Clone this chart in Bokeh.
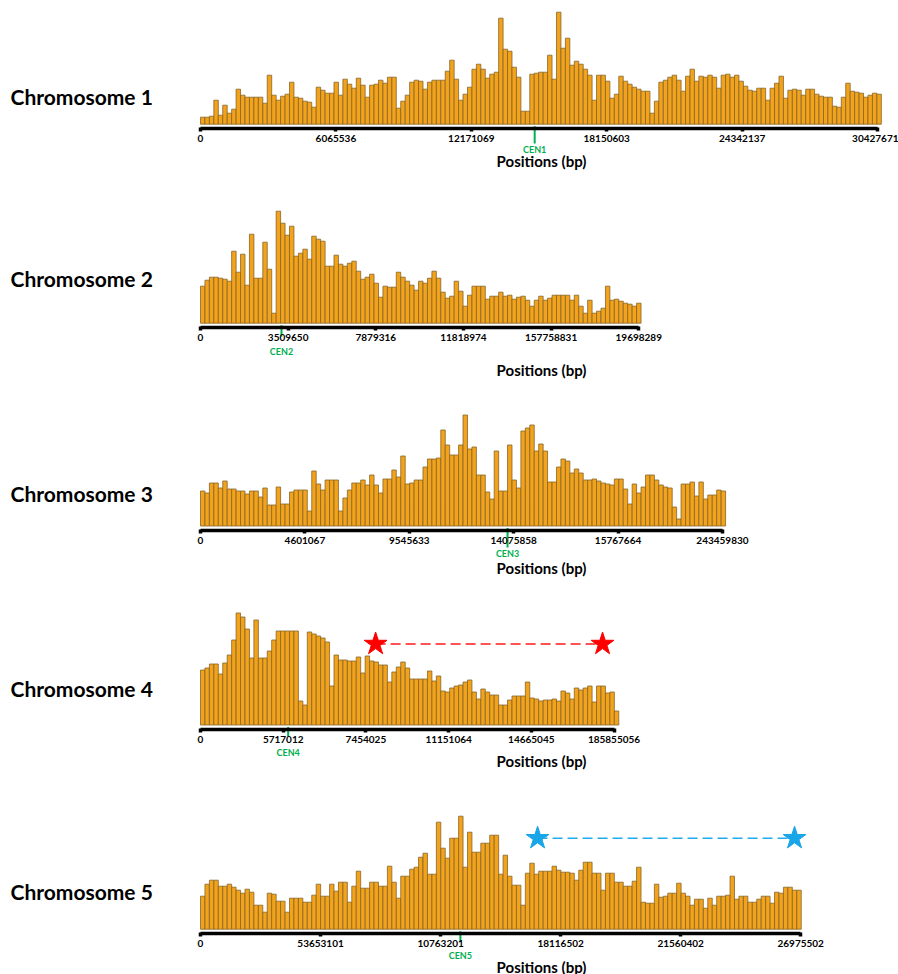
from bokeh.plotting import figure
from bokeh.models import Range1d, LinearAxis, FixedTicker, Label
from bokeh.layouts import column
from bokeh.embed import file_html
from bokeh.resources import INLINE
from bokeh.core.properties import value

# ---------------- data ----------------
BIN_SIZE = 200000
chrom_names = ["Chromosome 1", "Chromosome 2", "Chromosome 3", "Chromosome 4", "Chromosome 5"]
chrom_lengths = [30427671, 19698289, 23459830, 18585056, 26975502]
tick_labels = [
    ["0", "6065536", "12171069", "18150603", "24342137", "30427671"],
    ["0", "3509650", "7879316", "11818974", "157758831", "19698289"],
    ["0", "4601067", "9545633", "14075858", "15767664", "243459830"],
    ["0", "5717012", "7454025", "11151064", "14665045", "185855056"],
    ["0", "53653101", "10763201", "18116502", "21560402", "26975502"],
]
cen_names = ["CEN1", "CEN2", "CEN3", "CEN4", "CEN5"]
cen_positions = [15020000, 3640000, 13800000, 3940000, 11680000]

chr1_counts = [7, 7, 8, 24, 9, 19, 11, 15, 35, 29, 27, 27, 27, 27, 21, 49, 29, 24, 28, 30, 42, 27, 26, 23, 22, 17,
               37, 34, 31, 31, 42, 29, 45, 40, 36, 46, 39, 27, 39, 40, 44, 41, 47, 47, 16, 23, 29, 42, 44, 43, 35, 42,
               44, 44, 44, 53, 64, 45, 24, 30, 37, 55, 60, 55, 46, 50, 52, 106, 75, 73, 57, 47, 13, 13, 50, 51, 52, 52,
               69, 45, 112, 76, 86, 59, 63, 60, 55, 49, 24, 49, 49, 43, 26, 30, 48, 43, 40, 37, 35, 33, 33, 11, 23, 42,
               44, 47, 49, 44, 33, 48, 55, 43, 48, 47, 49, 47, 36, 49, 50, 47, 49, 43, 38, 34, 33, 36, 36, 24, 36, 41,
               48, 26, 34, 35, 34, 29, 35, 35, 30, 28, 27, 27, 18, 17, 27, 41, 33, 32, 31, 27, 29, 31, 30]
chr2_counts = [37, 43, 46, 46, 45, 44, 42, 72, 51, 69,
               38, 89, 45, 45, 81, 54, 10, 112, 100, 88,
               97, 67, 70, 74, 64, 87, 84, 82, 57, 57,
               68, 59, 57, 60, 62, 52, 44, 46, 49, 40,
               26, 37, 36, 36, 51, 46, 42, 38, 33, 42,
               40, 45, 52, 45, 31, 25, 27, 42, 32, 17,
               28, 37, 37, 37, 24, 27, 27, 31, 27, 28,
               24, 26, 27, 23, 17, 23, 27, 23, 25, 28,
               28, 28, 28, 23, 28, 17, 10, 23, 10, 12,
               15, 37, 23, 24, 22, 20, 19, 17, 20]
chr3_counts = [35, 33, 43, 43, 38, 45, 37, 37, 35, 35,
               32, 35, 35, 29, 38, 21, 21, 39, 22, 22,
               34, 36, 36, 36, 15, 55, 42, 36, 46, 46,
               46, 15, 28, 36, 43, 43, 46, 41, 51, 41,
               33, 47, 47, 56, 49, 70, 42, 43, 46, 46,
               59, 67, 67, 68, 96, 81, 71, 71, 81, 111,
               77, 79, 51, 51, 34, 27, 75, 35, 35, 81,
               46, 38, 95, 98, 101, 75, 82, 75, 44, 44,
               59, 67, 65, 53, 57, 53, 46, 46, 47, 45,
               43, 42, 41, 47, 47, 37, 22, 42, 33, 39,
               51, 51, 46, 41, 39, 38, 19, 7, 42, 42,
               44, 30, 44, 27, 31, 31, 36, 35]
chr4_counts = [55, 57, 61, 61, 51, 62, 70, 85, 112, 108,
               96, 67, 105, 67, 67, 74, 85, 94, 94, 94,
               94, 94, 24, 20, 93, 91, 89, 87, 83, 39,
               70, 65, 65, 64, 64, 68, 52, 69, 64, 63,
               60, 60, 43, 53, 58, 63, 57, 46, 46, 46,
               46, 54, 44, 49, 34, 33, 37, 39, 40, 43,
               45, 33, 26, 36, 33, 30, 30, 20, 20, 25,
               29, 29, 29, 43, 27, 26, 24, 25, 25, 26,
               24, 34, 32, 26, 37, 35, 37, 39, 23, 39,
               39, 32, 33, 14]
chr5_counts = [33, 45, 49, 49, 43, 43, 45, 42, 39, 36,
               40, 37, 24, 24, 17, 36, 35, 28, 28, 17,
               31, 31, 31, 27, 27, 34, 45, 33, 33, 45,
               38, 47, 47, 27, 43, 58, 41, 41, 47, 47,
               43, 43, 63, 47, 31, 53, 53, 60, 62, 72,
               76, 55, 55, 107, 81, 71, 91, 91, 113, 62,
               97, 77, 77, 86, 86, 94, 94, 55, 74, 53,
               44, 44, 24, 56, 66, 55, 58, 58, 58, 63,
               59, 57, 57, 56, 49, 59, 67, 67, 56, 56,
               39, 56, 56, 47, 47, 43, 43, 48, 62, 27,
               26, 26, 45, 32, 33, 36, 36, 46, 36, 33,
               24, 30, 30, 21, 31, 24, 33, 33, 34, 53,
               30, 33, 33, 27, 27, 30, 33, 33, 26, 37,
               36, 42, 42, 39, 39]
all_counts = [chr1_counts, chr2_counts, chr3_counts, chr4_counts, chr5_counts]

# marked regions (stars joined by a dashed line)
chr4_star_x = [7870000, 18070000]
chr4_star_y = [81, 81]
chr5_star_x = [15150000, 26700000]
chr5_star_y = [91, 91]

# ---------------- layout / style ----------------
FIG_W = 898
PX_PER_BP = 677.0 / 30427671
ORIGIN = 200  # canvas x where position 0 lies
# (top, bottom, baseline) in page pixels for each panel
panels = [(0, 178, 123.7), (178, 385, 322.7), (385, 588, 525.5), (588, 782, 724.5), (782, 974, 928.7)]
chrom_label_y = [96, 278, 493, 688, 891]
cen_label_y = [149, 351, 553, 752, 955]
cen_line_end = [143, 336, 547, 736, 941]
pos_label_y = [160, 369, 567, 760, 966]
AXIS_OFF = -4

FONT = "Lato"
BAR_FILL = "#F2A31B"
BAR_LINE = "#85652A"
GREEN = "#00B050"

figs = []
for i in range(5):
    top, bot, base = panels[i]
    p = figure(width=FIG_W, height=bot - top,
               x_range=Range1d(-ORIGIN / PX_PER_BP, (FIG_W - ORIGIN) / PX_PER_BP),
               y_range=Range1d(base - bot, base - top),
               x_axis_type=None, y_axis_type=None,
               output_backend="svg", toolbar_location=None,
               min_border=0, outline_line_color=None,
               background_fill_color="white", border_fill_color="white")
    counts = all_counts[i]
    centers = [(k + 0.5) * BIN_SIZE for k in range(len(counts))]
    p.vbar(x=centers, top=counts, bottom=0, width=BIN_SIZE,
           fill_color=BAR_FILL, line_color=BAR_LINE, line_width=0.8)

    L = chrom_lengths[i]
    ticks = [round(L * k / 5) for k in range(6)]
    axis = LinearAxis(fixed_location=AXIS_OFF, bounds=(0, L),
                      ticker=FixedTicker(ticks=ticks),
                      major_label_overrides={t: lab for t, lab in zip(ticks, tick_labels[i])})
    axis.axis_line_width = 3.5
    axis.axis_line_color = "black"
    axis.major_tick_line_width = 3.5
    axis.major_tick_line_color = "black"
    axis.major_tick_in = 1
    axis.major_tick_out = 3
    axis.minor_tick_line_color = None
    axis.major_label_text_font = FONT
    axis.major_label_text_font_style = "bold"
    axis.major_label_text_font_size = "10px"
    axis.major_label_text_color = "black"
    axis.major_label_standoff = 4
    p.add_layout(axis, "below")

    # centromere
    cx = cen_positions[i]
    p.segment(x0=[cx], y0=[AXIS_OFF + 2], x1=[cx], y1=[base - cen_line_end[i]],
              line_color=GREEN, line_width=2)
    p.text(x=[cx], y=[base - cen_label_y[i]], text=[cen_names[i]],
           text_font=value(FONT), text_font_style="bold", text_font_size="9px",
           text_color=GREEN, text_align="center", text_baseline="middle")

    p.add_layout(Label(x=10, x_units="screen", y=base - chrom_label_y[i], y_units="data",
                       text=chrom_names[i], text_font=FONT, text_font_style="bold",
                       text_font_size="21px", text_color="black",
                       text_align="left", text_baseline="middle"))
    p.add_layout(Label(x=541, x_units="screen", y=base - pos_label_y[i], y_units="data",
                       text="Positions (bp)", text_font=FONT, text_font_style="bold",
                       text_font_size="15px", text_color="black",
                       text_align="center", text_baseline="middle"))

    if i == 3:
        p.line(x=chr4_star_x, y=chr4_star_y, line_color="#FF1A1A", line_width=1.5, line_dash="10 5")
        p.scatter(x=chr4_star_x, y=chr4_star_y, marker="star", size=24,
                  fill_color="#FF0000", line_color="#FF0000")
    if i == 4:
        p.line(x=chr5_star_x, y=chr5_star_y, line_color="#22AAEE", line_width=1.5, line_dash="10 5")
        p.scatter(x=chr5_star_x, y=chr5_star_y, marker="star", size=24,
                  fill_color="#18A6E8", line_color="#18A6E8")
    figs.append(p)

layout = column(*figs, spacing=0)
open("out.html", "w").write(file_html(layout, INLINE))
